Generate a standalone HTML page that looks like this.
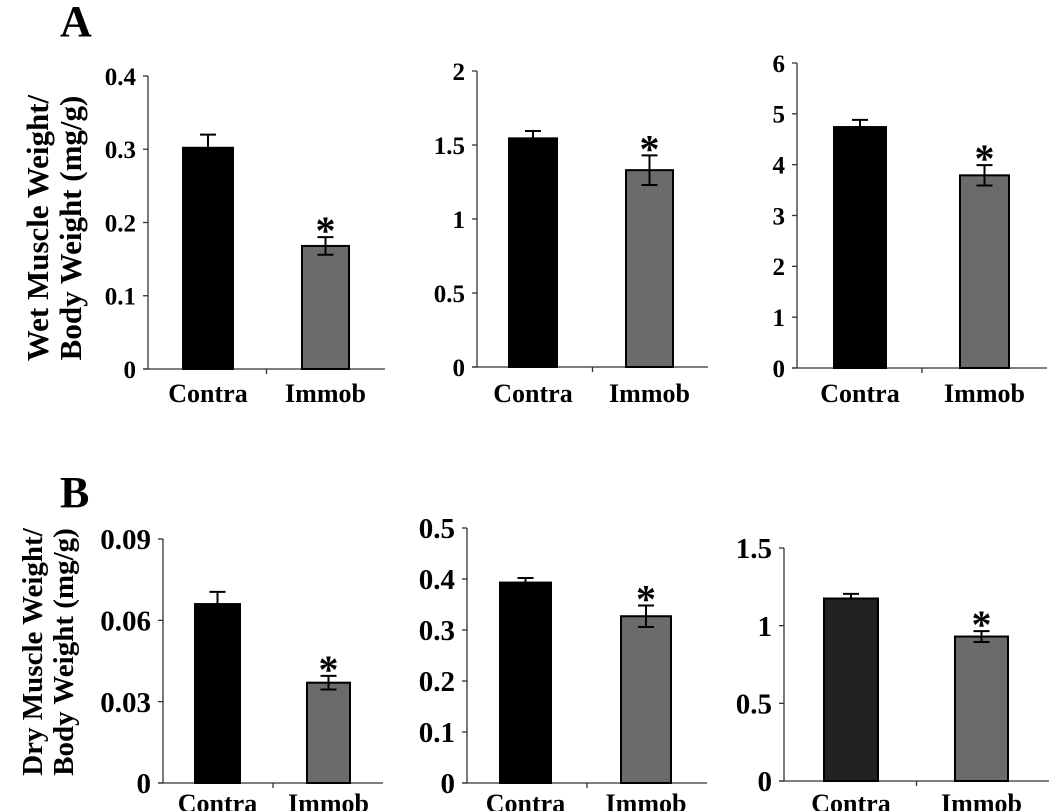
<!DOCTYPE html>
<html><head><meta charset="utf-8"><style>
body{margin:0;background:#fff;}
svg{display:block;font-family:"Liberation Serif",serif;font-weight:bold;}
</style></head><body>
<svg id="fig" width="1050" height="811" viewBox="0 0 1050 811">
<text x="60" y="36" font-size="44">A</text>
<text x="60" y="507" font-size="44">B</text>
<g transform="translate(48,228) rotate(-90)" font-size="31" text-anchor="middle">
<text x="0" y="0">Wet Muscle Weight/</text><text x="0" y="33">Body Weight (mg/g)</text></g>
<g transform="translate(42,652) rotate(-90)" font-size="29" text-anchor="middle">
<text x="0" y="0">Dry Muscle Weight/</text><text x="0" y="31">Body Weight (mg/g)</text></g>
</svg>
<script>
const categories = ["Contra", "Immob"];
const yMaxes = [0.4, 2, 6, 0.09, 0.5, 1.5];
const tickSteps = [0.1, 0.5, 1, 0.03, 0.1, 0.5];
const tickLabels = [
  ["0","0.1","0.2","0.3","0.4"],
  ["0","0.5","1","1.5","2"],
  ["0","1","2","3","4","5","6"],
  ["0","0.03","0.06","0.09"],
  ["0","0.1","0.2","0.3","0.4","0.5"],
  ["0","0.5","1","1.5"]
];
const contraValues = [0.302, 1.545, 4.74, 0.066, 0.393, 1.175];
const contraErrors = [0.018, 0.05, 0.14, 0.0045, 0.009, 0.03];
const immobValues = [0.168, 1.33, 3.79, 0.037, 0.327, 0.93];
const immobErrors = [0.012, 0.1, 0.2, 0.0025, 0.021, 0.035];

const layout = [
  {ax:148, top:76, bottom:369, end:385, bars:[[183,233],[302,349]], fs:25, labY:402, barFill:["#000","#6b6b6b"]},
  {ax:477, top:71, bottom:367, end:708, bars:[[509,557],[626,673]], fs:25, labY:402, barFill:["#000","#6b6b6b"]},
  {ax:797, top:63, bottom:368, end:1047, bars:[[834,886],[960,1009]], fs:25, labY:402, barFill:["#000","#6b6b6b"]},
  {ax:163, top:539, bottom:783, end:383, bars:[[195,240],[307,350]], fs:29, labY:812, barFill:["#000","#6b6b6b"]},
  {ax:467, top:528, bottom:783, end:707, bars:[[500,551],[621,671]], fs:29, labY:812, barFill:["#000","#6b6b6b"]},
  {ax:784, top:548, bottom:781, end:1049, bars:[[824,878],[955,1008]], fs:29, labY:812, barFill:["#222","#6b6b6b"]}
];
const NS = "http://www.w3.org/2000/svg";
const svg = document.getElementById("fig");
function mk(tag, attrs, parent){const e=document.createElementNS(NS,tag);for(const k in attrs)e.setAttribute(k,attrs[k]);(parent||svg).appendChild(e);return e;}
layout.forEach((L,p)=>{
  const g = mk("g",{});
  
  
  const y = v => L.bottom - v/yMaxes[p]*(L.bottom-L.top);
  const ax = mk("line",{x1:L.ax,y1:L.top,x2:L.ax,y2:L.bottom,stroke:"#333","stroke-width":1.3},g);
  
  
  const xa = mk("line",{x1:L.ax-5,y1:L.bottom,x2:L.end,y2:L.bottom,stroke:"#333","stroke-width":1.3},g);
  
  
  tickLabels[p].forEach((t,i)=>{
    const ty = y(i*tickSteps[p]);
    mk("line",{x1:L.ax-5,y1:ty,x2:L.ax,y2:ty,stroke:"#333","stroke-width":1.3},g);
    const tx = mk("text",{x:L.ax-12,y:ty+L.fs*0.35,"font-size":L.fs,"text-anchor":"end"},g);
    tx.textContent = t;
    
    
  });
  const mid = (L.ax+L.end)/2;
  mk("line",{x1:mid,y1:L.bottom,x2:mid,y2:L.bottom+5,stroke:"#333","stroke-width":1.3},g);
  const vals=[contraValues[p],immobValues[p]], errs=[contraErrors[p],immobErrors[p]];
  categories.forEach((c,i)=>{
    const [x0,x1]=L.bars[i], cx=(x0+x1)/2;
    const r = mk("rect",{x:x0,y:y(vals[i]),width:x1-x0,height:L.bottom-y(vals[i]),fill:L.barFill[i],stroke:"#000","stroke-width":2},g);
    
    
    const yt=y(vals[i]+errs[i]), yb=y(vals[i]-errs[i]);
    const eb = mk("path",{d:`M${cx},${yt}V${i==0?y(vals[i]):yb}M${cx-8},${yt}H${cx+8}`+(i==0?"":`M${cx-8},${yb}H${cx+8}`),stroke:"#000","stroke-width":2,fill:"none"},g);
    
    
    if(i==1){
      const s = mk("text",{x:cx,y:yt+7,"font-size":40,"text-anchor":"middle"},g);
      s.textContent="*";
      
      
    }
    const lab = mk("text",{x:cx,y:L.labY,"font-size":26,"text-anchor":"middle"},g);
    lab.textContent=c;
    
    
  });
});
</script>
</body></html>
